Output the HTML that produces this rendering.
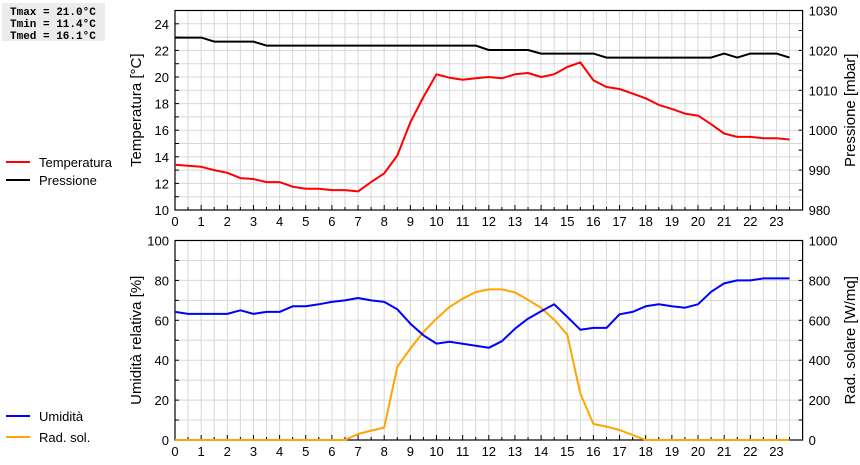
<!DOCTYPE html>
<html><head><meta charset="utf-8"><style>
body{margin:0;background:#fff;width:860px;height:460px;overflow:hidden;font-family:"Liberation Sans",sans-serif}
</style></head><body>
<svg id="c" width="860" height="460" xmlns="http://www.w3.org/2000/svg"></svg>
<script>
const hours=[0,0.5,1,1.5,2,2.5,3,3.5,4,4.5,5,5.5,6,6.5,7,7.5,8,8.5,9,9.5,10,10.5,11,11.5,12,12.5,13,13.5,14,14.5,15,15.5,16,16.5,17,17.5,18,18.5,19,19.5,20,20.5,21,21.5,22,22.5,23,23.5];
const temperature=[13.4,13.33,13.25,13.0,12.8,12.4,12.33,12.1,12.1,11.75,11.6,11.6,11.5,11.5,11.4,12.1,12.75,14.1,16.6,18.5,20.2,19.95,19.8,19.9,20.0,19.9,20.2,20.3,20.0,20.2,20.75,21.1,19.75,19.25,19.1,18.75,18.4,17.9,17.6,17.25,17.1,16.45,15.75,15.5,15.5,15.4,15.4,15.3];
const pressure=[1023.2,1023.2,1023.2,1022.2,1022.2,1022.2,1022.2,1021.2,1021.2,1021.2,1021.2,1021.2,1021.2,1021.2,1021.2,1021.2,1021.2,1021.2,1021.2,1021.2,1021.2,1021.2,1021.2,1021.2,1020.1,1020.1,1020.1,1020.1,1019.2,1019.2,1019.2,1019.2,1019.2,1018.2,1018.2,1018.2,1018.2,1018.2,1018.2,1018.2,1018.2,1018.2,1019.2,1018.2,1019.2,1019.2,1019.2,1018.2];
const humidity=[64.2,63.2,63.2,63.2,63.2,65,63.2,64.2,64.2,67,67,68,69.2,70,71.2,70,69.2,65.5,58.3,52.5,48.3,49.2,48.2,47.2,46.2,49.5,55.8,60.8,64.5,68,61.7,55.3,56.2,56.2,63,64.2,67,68,67,66.3,68,74.3,78.5,80,80,81,81,81];
const radiation=[0,0,0,0,0,0,0,0,0,0,0,0,0,0,30,47,62,367,458,542,608,667,708,742,755,755,740,703,662,603,528,233,80,67,50,25,0,0,0,0,0,0,0,0,0,0,0,0];
const tempTicks=[10,12,14,16,18,20,22,24];
const presTicks=[980,990,1000,1010,1020,1030];
const humTicks=[0,20,40,60,80,100];
const radTicks=[0,200,400,600,800,1000];
const xTicks=[0,1,2,3,4,5,6,7,8,9,10,11,12,13,14,15,16,17,18,19,20,21,22,23];

const svg=document.getElementById('c');
const NS='http://www.w3.org/2000/svg';
function mk(tag,attrs,name,parent){const e=document.createElementNS(NS,tag);for(const k in attrs)e.setAttribute(k,attrs[k]);


(parent||svg).appendChild(e);return e;}
const X0=175,X1=802.6;
const x=h=>X0+h/24*(X1-X0);
function panel(top,bot,lmin,lmax,rmin,rmax,lstep,lTicks,rTicks,lTitle,rTitle,lname,rname,rminor,pname){
  const g=mk('g',{},pname);
  const yl=v=>bot-(v-lmin)/(lmax-lmin)*(bot-top);
  const yr=v=>bot-(v-rmin)/(rmax-rmin)*(bot-top);
  for(let v=lmin+lstep;v<lmax-1e-9;v+=lstep)mk('line',{x1:X0,x2:X1,y1:yl(v),y2:yl(v),stroke:'#d8d8d8','stroke-width':1},'h-grid',g);
  for(let h=0.5;h<24;h+=0.5)mk('line',{x1:x(h),x2:x(h),y1:top,y2:bot,stroke:'#d8d8d8','stroke-width':1},'v-grid',g);
  for(let h=0.5;h<24;h+=0.5)mk('line',{x1:x(h),x2:x(h),y1:bot,y2:bot-(h%1?3:5),stroke:'#000'},'x-tick',g);
  for(let v=lmin+lstep;v<lmax;v+=lstep)mk('line',{x1:X0,x2:X0+4,y1:yl(v),y2:yl(v),stroke:'#000'},'y-tick',g);
  for(let v=rmin+rminor;v<rmax;v+=rminor)mk('line',{x1:X1,x2:X1-4,y1:yr(v),y2:yr(v),stroke:'#000'},'y2-tick',g);
  mk('rect',{x:X0,y:top,width:X1-X0,height:bot-top,fill:'none',stroke:'#000','stroke-width':1.2},'plot-frame',g);
  lTicks.forEach(v=>{const t=mk('text',{x:X0-6,y:yl(v)+5,'text-anchor':'end','font-size':13},'y-tick-label',g);t.textContent=v;});
  rTicks.forEach(v=>{const t=mk('text',{x:X1+6,y:yr(v)+5,'font-size':13},'y2-tick-label',g);t.textContent=v;});
  xTicks.forEach(v=>{const t=mk('text',{x:x(v),y:bot+16,'text-anchor':'middle','font-size':13},'x-tick-label',g);t.textContent=v;});
  const cy=(top+bot)/2;
  let t=mk('text',{x:0,y:0,transform:`translate(141,${cy}) rotate(-90)`,'text-anchor':'middle','font-size':15},lname,g);t.textContent=lTitle;
  t=mk('text',{x:0,y:0,transform:`translate(855,${cy}) rotate(-90)`,'text-anchor':'middle','font-size':15},rname,g);t.textContent=rTitle;
  return {yl,yr,g};
}
function line(vals,yf,color,name,g){
  const d=vals.map((v,i)=>(i?'L':'M')+x(hours[i]).toFixed(1)+' '+yf(v).toFixed(1)).join(' ');
  mk('path',{d,fill:'none',stroke:color,'stroke-width':2,'stroke-linejoin':'round'},name,g);
}
const p1=panel(10.5,210,10,25,980,1030,1,tempTicks,presTicks,'Temperatura [°C]','Pressione [mbar]','temperature-axis-title','pressure-axis-title',5,'top-panel');
line(pressure,p1.yr,'#000','pressure-line',p1.g);
line(temperature,p1.yl,'#ff0000','temperature-line',p1.g);
const p2=panel(240.5,440,0,100,0,1000,10,humTicks,radTicks,'Umidità relativa [%]','Rad. solare [W/mq]','humidity-axis-title','radiation-axis-title',100,'bottom-panel');
line(radiation,p2.yr,'#ffa500','radiation-line',p2.g);
line(humidity,p2.yl,'#0000ff','humidity-line',p2.g);

// stats box
const sb=mk('g',{},'stats-box');
mk('rect',{x:2,y:3,width:103,height:38,fill:'#ececec'},'stats-bg',sb);
['Tmax = 21.0°C','Tmin = 11.4°C','Tmed = 16.1°C'].forEach((s,i)=>{const t=mk('text',{x:10,y:15+i*12,'font-size':11,'font-family':'Liberation Mono, monospace','font-weight':'bold'},'stats-line',sb);t.textContent=s;});
// legends
function legend(y,color,label,name){const g=mk('g',{},name);
mk('line',{x1:6,x2:30,y1:y,y2:y,stroke:color,'stroke-width':2},'legend-swatch',g);
const t=mk('text',{x:39,y:y+5,'font-size':13},'legend-label',g);t.textContent=label;}
legend(162,'#ff0000','Temperatura','legend-temperature');
legend(180,'#000','Pressione','legend-pressure');
legend(416,'#0000ff','Umidità','legend-humidity');
legend(437,'#ffa500','Rad. sol.','legend-radiation');
</script>
</body></html>
